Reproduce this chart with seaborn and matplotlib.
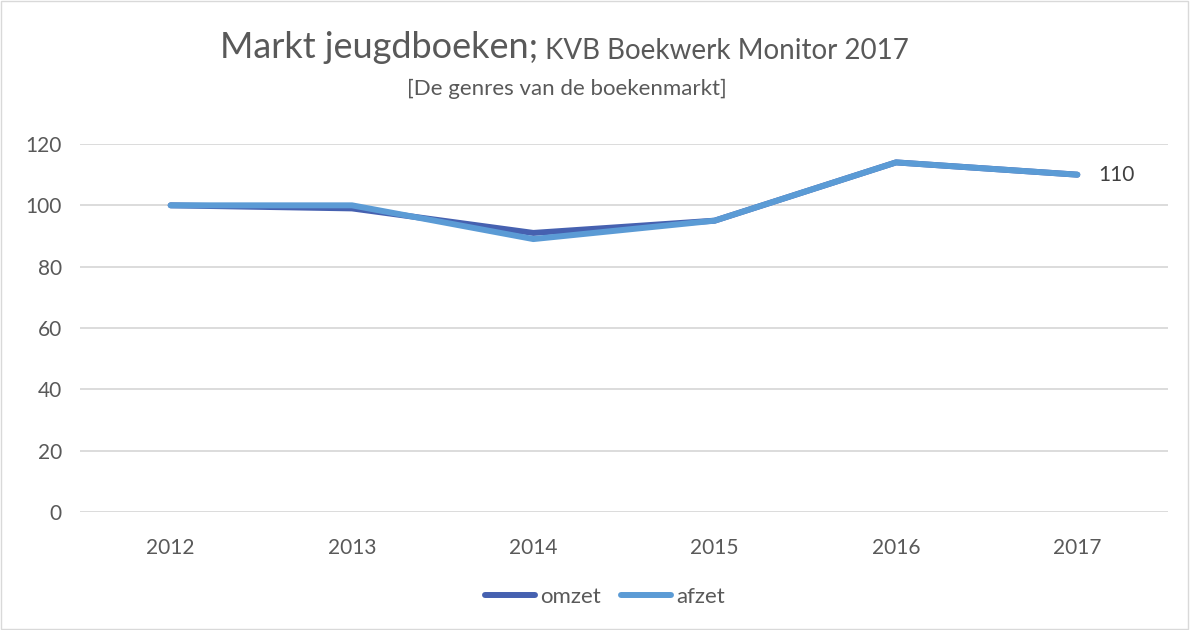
import matplotlib
matplotlib.use("Agg")
import matplotlib.pyplot as plt
import seaborn as sns
import pandas as pd
from matplotlib.lines import Line2D

years = ["2012", "2013", "2014", "2015", "2016", "2017"]
omzet = [100, 99, 91, 95, 114, 110]
afzet = [100, 100, 89, 95, 114, 110]
series_names = ["omzet", "afzet"]
yticks = [0, 20, 40, 60, 80, 100, 120]

df = pd.DataFrame({
    "jaar": years * 2,
    "waarde": omzet + afzet,
    "reeks": ["omzet"] * len(years) + ["afzet"] * len(years),
})

sns.set_theme(style="white")
plt.rcParams["font.family"] = ["Lato", "DejaVu Sans"]

txt = "#595959"
fig = plt.figure(figsize=(11.9, 6.3), dpi=100)
ax = fig.add_axes([80 / 1190, 1 - 512 / 630, (1168 - 80) / 1190, (512 - 144) / 630])

palette = {"omzet": "#4661B0", "afzet": "#5B9BD5"}
sns.lineplot(data=df, x="jaar", y="waarde", hue="reeks", palette=palette,
             linewidth=4.3, ax=ax, sort=False, legend=False,
             solid_capstyle="round", solid_joinstyle="round")

ax.set_xlim(-0.5, len(years) - 0.5)
ax.set_ylim(0, 120)
ax.set_yticks(yticks)
ax.set_xlabel("")
ax.set_ylabel("")
ax.grid(axis="y", color="#D9D9D9", linewidth=1.3)
ax.grid(axis="x", visible=False)
ax.set_axisbelow(True)
for s in ax.spines.values():
    s.set_visible(False)
ax.tick_params(axis="both", length=0, labelsize=15, colors=txt)
ax.tick_params(axis="x", pad=19)
ax.tick_params(axis="y", pad=13)

# data label
ax.annotate(str(afzet[-1]), xy=(len(years) - 1, afzet[-1]), xytext=(15, 0),
            textcoords="offset points", va="center", ha="left",
            fontsize=15, color="#404040")

# title
t1 = fig.text(220 / 1190, 1 - 58 / 630, "Markt jeugdboeken;", fontsize=26,
              color=txt, ha="left", va="baseline")
ax.annotate(" KVB Boekwerk Monitor 2017", xy=(1, 0), xycoords=t1,
            fontsize=20, color=txt, ha="left", va="bottom",
            annotation_clip=False)
fig.text(567 / 1190, 1 - 89 / 630, "[De genres van de boekenmarkt]",
         fontsize=16, color=txt, ha="center", va="center")

# legend
handles = [Line2D([0], [0], color=palette[n], lw=4.3, solid_capstyle="round")
           for n in series_names]
fig.legend(handles, series_names, loc="center", bbox_to_anchor=(605 / 1190, 1 - 597 / 630),
           ncol=2, frameon=False, fontsize=16, handlelength=2.25,
           handletextpad=0.25, columnspacing=0.9, labelcolor=txt)

# border
fig.patches.append(plt.Rectangle((0.001, 0.002), 0.997, 0.996, transform=fig.transFigure,
                                 fill=False, edgecolor="#D9D9D9", linewidth=1))

fig.savefig("out.png", dpi=100)
